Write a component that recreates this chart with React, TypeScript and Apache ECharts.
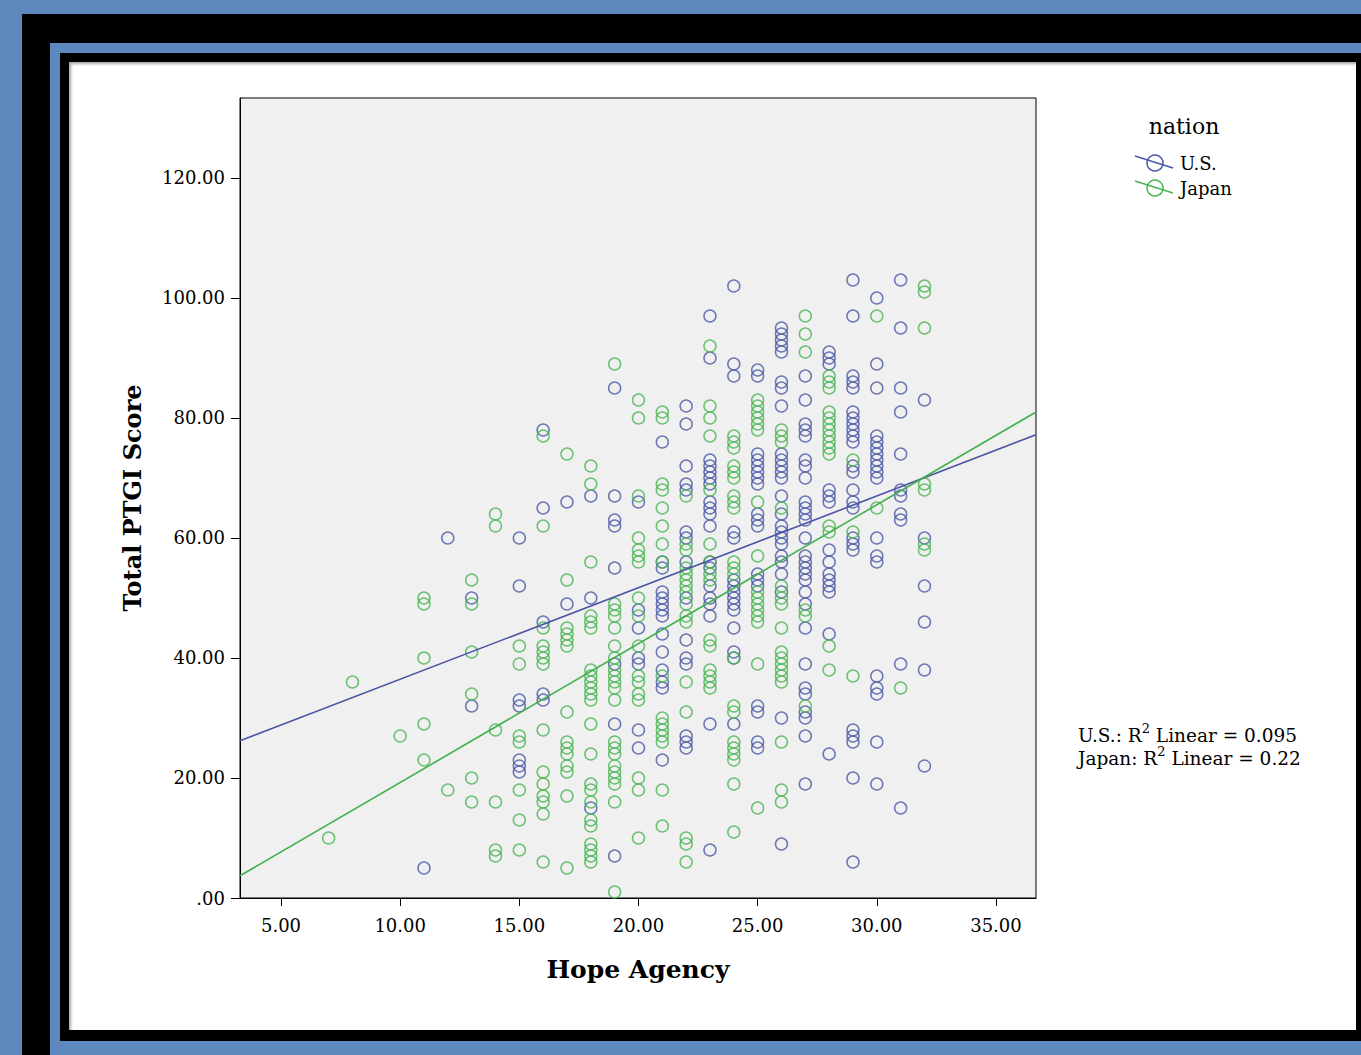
import React, { useEffect, useRef } from "react";
import * as echarts from "echarts";

// ---- Data ----
const xTickValues = [5, 10, 15, 20, 25, 30, 35];
const yTickValues = [0, 20, 40, 60, 80, 100, 120];
const xRange = [3.28, 36.68];
const yRange = [0, 133.33];

// U.S. respondents: [hope agency, PTGI scores...]
const usColumns: [number, number[]][] = [
  [11, [5]],
  [12, [60]],
  [13, [50, 32]],
  [15, [60, 52, 33, 32, 23, 22, 21]],
  [16, [78, 65, 46, 34, 33]],
  [17, [66, 49]],
  [18, [67, 50, 15]],
  [19, [85, 67, 63, 62, 55, 39, 29, 7]],
  [20, [66, 48, 45, 40, 39, 28, 25]],
  [21, [76, 56, 55, 51, 50, 49, 48, 47, 44, 41, 38, 36, 35, 23]],
  [22, [82, 79, 72, 69, 68, 61, 60, 56, 50, 43, 40, 39, 27, 26, 25]],
  [23, [97, 90, 73, 72, 71, 70, 69, 66, 65, 64, 62, 56, 55, 52, 50, 49, 47, 29, 8]],
  [24, [102, 89, 87, 61, 60, 53, 52, 51, 50, 49, 48, 45, 41, 40, 29]],
  [25, [88, 87, 74, 73, 72, 71, 70, 69, 64, 63, 62, 54, 53, 52, 32, 31, 26, 25]],
  [26, [95, 94, 93, 92, 91, 86, 85, 82, 74, 73, 72, 71, 70, 67, 64, 62, 61, 60, 59, 57, 56, 54, 51, 30, 9]],
  [27, [87, 83, 79, 78, 77, 73, 72, 70, 66, 65, 64, 63, 60, 57, 56, 55, 54, 53, 51, 49, 45, 39, 35, 34, 31, 30, 27, 19]],
  [28, [91, 90, 89, 68, 67, 66, 58, 56, 54, 53, 52, 51, 44, 24]],
  [29, [103, 97, 87, 86, 85, 81, 80, 79, 78, 77, 76, 72, 71, 68, 66, 65, 60, 59, 58, 28, 27, 26, 20, 6]],
  [30, [100, 89, 85, 77, 76, 75, 74, 73, 72, 71, 70, 60, 57, 56, 37, 35, 34, 26, 19]],
  [31, [103, 95, 85, 81, 74, 68, 67, 64, 63, 39, 15]],
  [32, [83, 60, 52, 46, 38, 22]],
];

// Japanese respondents
const japanColumns: [number, number[]][] = [
  [7, [10]],
  [8, [36]],
  [10, [27]],
  [11, [50, 49, 40, 29, 23]],
  [12, [18]],
  [13, [53, 49, 41, 34, 20, 16]],
  [14, [64, 62, 28, 16, 8, 7]],
  [15, [42, 39, 27, 26, 18, 13, 8]],
  [16, [77, 62, 45, 42, 41, 40, 39, 28, 21, 19, 17, 16, 14, 6]],
  [17, [74, 53, 45, 44, 43, 42, 31, 26, 25, 24, 22, 21, 17, 5]],
  [18, [72, 69, 56, 47, 46, 45, 38, 37, 36, 35, 34, 33, 29, 24, 19, 18, 16, 13, 12, 9, 8, 7, 6]],
  [19, [89, 49, 48, 47, 45, 42, 40, 38, 37, 36, 35, 33, 26, 25, 24, 22, 21, 20, 19, 16, 1]],
  [20, [83, 80, 67, 60, 58, 57, 56, 50, 47, 42, 37, 36, 34, 33, 20, 18, 10]],
  [21, [81, 80, 69, 68, 65, 62, 59, 56, 37, 30, 29, 28, 27, 26, 18, 12]],
  [22, [67, 59, 58, 55, 54, 53, 52, 51, 49, 47, 46, 36, 31, 10, 9, 6]],
  [23, [92, 82, 80, 77, 68, 59, 56, 54, 53, 43, 42, 38, 37, 36, 35]],
  [24, [77, 76, 75, 72, 71, 70, 67, 66, 65, 56, 55, 54, 40, 32, 31, 26, 25, 24, 23, 19, 11]],
  [25, [83, 82, 81, 80, 79, 78, 66, 57, 51, 50, 49, 48, 47, 46, 39, 15]],
  [26, [78, 77, 76, 65, 52, 50, 49, 45, 41, 40, 39, 38, 37, 36, 26, 18, 16]],
  [27, [97, 94, 91, 48, 47, 32]],
  [28, [87, 86, 85, 81, 80, 79, 78, 77, 76, 75, 74, 62, 61, 42, 38]],
  [29, [73, 61, 37]],
  [30, [97, 65]],
  [31, [35]],
  [32, [102, 101, 95, 69, 68, 59, 58]],
];

// Fit lines as shown in the reference
const usFit = { intercept: 21.19, slope: 1.527, r2: "0.095" };
const japanFit = { intercept: -3.89, slope: 2.314, r2: "0.22" };

const US_COLOR = "#4b59a6";
const JP_COLOR = "#48b552";
const FONT = "DejaVu Serif";

function flatten(cols: [number, number[]][]) {
  const out: number[][] = [];
  cols.forEach(([x, ys]) => ys.forEach((y) => out.push([x, y])));
  return out;
}

function fitLine(fit: { intercept: number; slope: number }) {
  return xRange.map((x) => [x, fit.intercept + fit.slope * x]);
}

function legendItem(y: number, color: string, label: string) {
  return {
    type: "group",
    x: 1155,
    y,
    children: [
      { type: "line", shape: { x1: -20, y1: -7, x2: 18, y2: 5 }, style: { stroke: color, lineWidth: 1.5 } },
      { type: "circle", shape: { cx: 0, cy: 0, r: 8 }, style: { fill: "none", stroke: color, lineWidth: 1.5 } },
      {
        type: "text",
        x: 25,
        y: 0,
        style: { text: label, font: `18px '${FONT}'`, fill: "#000", verticalAlign: "middle", align: "left" },
      },
    ],
  };
}

export default function App() {
  const ref = useRef<HTMLDivElement>(null);

  useEffect(() => {
    if (!ref.current) return;
    const chart = echarts.init(ref.current, null, { renderer: "svg" });
    const axisLabelStyle = { fontFamily: FONT, fontSize: 18, color: "#000" };
    chart.setOption({
      animation: false,
      backgroundColor: "transparent",
      grid: {
        left: 240,
        top: 98,
        width: 796,
        height: 800,
        show: true,
        backgroundColor: "#f0f0f0",
        borderColor: "#000",
        borderWidth: 1,
      },
      xAxis: {
        type: "value",
        min: xRange[0],
        max: xRange[1],
        name: "Hope Agency",
        nameLocation: "middle",
        nameGap: 59,
        nameTextStyle: { fontFamily: FONT, fontSize: 25, fontWeight: "bold", color: "#000" },
        axisLine: { show: true, lineStyle: { color: "#000", width: 1 } },
        axisTick: { show: true, length: 8, lineStyle: { color: "#000" }, customValues: xTickValues },
        axisLabel: {
          ...axisLabelStyle,
          margin: 18,
          customValues: xTickValues,
          formatter: (v: number) => v.toFixed(2),
        },
        splitLine: { show: false },
      },
      yAxis: {
        type: "value",
        min: yRange[0],
        max: yRange[1],
        name: "Total PTGI Score",
        nameLocation: "middle",
        nameGap: 96,
        nameTextStyle: { fontFamily: FONT, fontSize: 24, fontWeight: "bold", color: "#000" },
        axisLine: { show: true, lineStyle: { color: "#000", width: 1 } },
        axisTick: { show: true, length: 9, lineStyle: { color: "#000" }, customValues: yTickValues },
        axisLabel: {
          ...axisLabelStyle,
          margin: 15,
          customValues: yTickValues,
          formatter: (v: number) => (v === 0 ? ".00" : v.toFixed(2)),
        },
        splitLine: { show: false },
      },
      series: [
        {
          name: "U.S.",
          type: "scatter",
          data: flatten(usColumns),
          symbol: "circle",
          symbolSize: 12,
          itemStyle: { color: "rgba(0,0,0,0)", borderColor: US_COLOR, borderWidth: 1.5 },
        },
        {
          name: "Japan",
          type: "scatter",
          data: flatten(japanColumns),
          symbol: "circle",
          symbolSize: 12,
          itemStyle: { color: "rgba(0,0,0,0)", borderColor: JP_COLOR, borderWidth: 1.5 },
        },
        {
          name: "U.S. fit",
          type: "line",
          data: fitLine(usFit),
          showSymbol: false,
          lineStyle: { color: "#4a55a3", width: 1.6 },
          z: 5,
        },
        {
          name: "Japan fit",
          type: "line",
          data: fitLine(japanFit),
          showSymbol: false,
          lineStyle: { color: "#3fb04b", width: 1.6 },
          z: 5,
        },
      ],
      graphic: [
        {
          type: "text",
          x: 1184,
          y: 126,
          style: { text: "nation", font: `22px '${FONT}'`, fill: "#000", align: "center", verticalAlign: "middle" },
        },
        legendItem(163, US_COLOR, "U.S."),
        legendItem(188, JP_COLOR, "Japan"),
        {
          type: "text",
          x: 1078,
          y: 722,
          style: {
            text: `{a|U.S.: R}{s|2}{a| Linear = ${usFit.r2}}\n{a|Japan: R}{s|2}{a| Linear = ${japanFit.r2}}`,
            fill: "#000",
            rich: {
              a: { fontFamily: FONT, fontSize: 18.5, lineHeight: 23, verticalAlign: "bottom" },
              s: { fontFamily: FONT, fontSize: 13, lineHeight: 23, verticalAlign: "top", padding: [0, 0, 8, 0] },
            },
          },
        },
      ],
    });
    return () => chart.dispose();
  }, []);

  const box = (l: number, t: number, r: number, b: number, bg: string, extra: any = {}) => (
    <div
      style={{
        position: "absolute",
        left: l,
        top: t,
        width: r - l,
        height: b - t,
        background: bg,
        ...extra,
      }}
    />
  );

  return (
    <div style={{ position: "fixed", left: 0, top: 0, width: 1361, height: 1055, background: "#5d89bf", overflow: "hidden" }}>
      {box(22, 14, 1361, 1055, "#000")}
      {box(50, 43, 1361, 1055, "#5d89bf")}
      {box(60, 53, 1361, 1041, "#000")}
      {box(69, 62, 1356, 1030, "#fff", { boxShadow: "inset 2px 2px 3px rgba(0,0,0,0.35)" })}
      <div ref={ref} style={{ position: "absolute", left: 0, top: 0, width: 1361, height: 1055 }} />
    </div>
  );
}
